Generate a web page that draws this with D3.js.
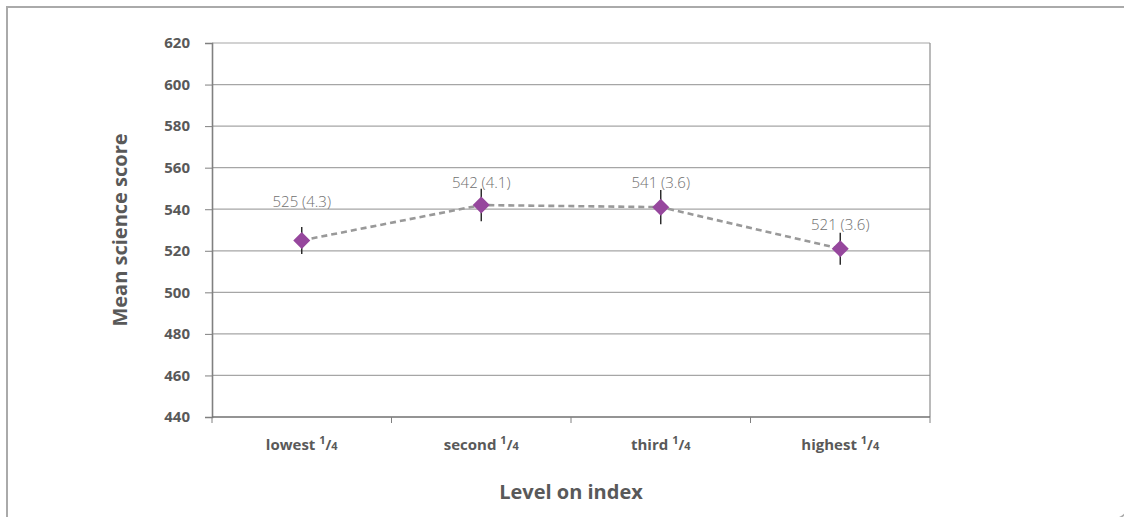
<!DOCTYPE html>
<html><head><meta charset="utf-8">
<script src="https://cdn.jsdelivr.net/npm/d3@7"></script>
<style>
html,body{margin:0;padding:0;background:#fff;}
svg{display:block;}
</style></head>
<body>
<svg id="c" width="1124" height="517"></svg>
<script>
// ---- data ----
const categories = ["lowest", "second", "third", "highest"];
const meanScores = [525, 542, 541, 521];
const standardErrors = [4.3, 4.1, 3.6, 3.6];
const errorHalfRange = [6.5, 7.8, 8.2, 7.7];
const yTicks = [440, 460, 480, 500, 520, 540, 560, 580, 600, 620];
const yTitle = "Mean science score";
const xTitle = "Level on index";

// ---- layout ----
const svg = d3.select("#c");
const L = 212, R = 930, T = 43, B = 417;
const font = "'Open Sans', 'Noto Sans', sans-serif";
const x = d3.scaleBand().domain(categories).range([L, R]).padding(0);
const y = d3.scaleLinear().domain([440, 620]).range([B, T]);

// outer frame
svg.append("path")
  .attr("d", "M7,530 V7 H1130")
  .attr("fill", "none").attr("stroke", "#aaa").attr("stroke-width", 2);
svg.append("path")
  .attr("d", "M1126,509 A9,9 0 0 1 1117,518")
  .attr("fill", "none").attr("stroke", "#aaa").attr("stroke-width", 1.5);

// gridlines
svg.append("g").selectAll("line").data(yTicks.filter(d => d !== 440)).join("line")
  .attr("x1", L).attr("x2", R)
  .attr("y1", d => y(d)).attr("y2", d => y(d))
  .attr("stroke", "#a6a6a6").attr("stroke-width", 1.2);

// right border of plot
svg.append("line").attr("x1", R).attr("x2", R).attr("y1", T).attr("y2", B)
  .attr("stroke", "#8c8c8c").attr("stroke-width", 1.2);

// y axis
const yAxis = d3.axisLeft(y).tickValues(yTicks).tickSize(7).tickPadding(15).tickFormat(d3.format("d"));
const gy = svg.append("g").attr("transform", `translate(${L},0)`).call(yAxis);
gy.select(".domain").attr("stroke", "#808080").attr("stroke-width", 1.6);
gy.selectAll(".tick line").attr("stroke", "#808080").attr("stroke-width", 1);
gy.selectAll(".tick text").attr("font-family", font).attr("font-size", 15)
  .attr("font-weight", "bold").attr("fill", "#595959");

// x axis (ticks at band boundaries)
const gx = svg.append("g").attr("transform", `translate(0,${B})`);
gx.append("line").attr("x1", L).attr("x2", R).attr("y1", 0).attr("y2", 0)
  .attr("stroke", "#707070").attr("stroke-width", 1.6);
const bounds = categories.map(c => x(c)).concat([x(categories[categories.length - 1]) + x.bandwidth()]);
gx.selectAll("line.tk").data(bounds).join("line").attr("class", "tk")
  .attr("x1", d => d).attr("x2", d => d).attr("y1", 0).attr("y2", 6)
  .attr("stroke", "#808080").attr("stroke-width", 1);
const lbl = gx.selectAll("text.cat").data(categories).join("text").attr("class", "cat")
  .attr("x", d => x(d) + x.bandwidth() / 2).attr("y", 33)
  .attr("text-anchor", "middle").attr("font-family", font).attr("font-size", 15)
  .attr("font-weight", "bold").attr("fill", "#595959");
lbl.append("tspan").text(d => d + " ");
lbl.append("tspan").text("1").attr("font-size", 11).attr("dy", -6);
lbl.append("tspan").text("/").attr("font-size", 14).attr("dy", 6);
lbl.append("tspan").text("4").attr("font-size", 11);

// axis titles
svg.append("text").attr("transform", `translate(127,${(T + B) / 2}) rotate(-90)`)
  .attr("text-anchor", "middle")
  .attr("font-family", font).attr("font-size", 20).attr("font-weight", "bold")
  .attr("fill", "#595959").text(yTitle);
svg.append("text").attr("x", (L + R) / 2).attr("y", 499)
  .attr("text-anchor", "middle").attr("font-family", font).attr("font-size", 20)
  .attr("font-weight", "bold").attr("fill", "#595959").text(xTitle);

// data
const pts = categories.map((c, i) => ({c, v: meanScores[i], se: standardErrors[i], e: errorHalfRange[i]}));
const cx = d => x(d.c) + x.bandwidth() / 2;

// dashed line
svg.append("path").datum(pts)
  .attr("d", d3.line().x(cx).y(d => y(d.v)))
  .attr("fill", "none").attr("stroke", "#999").attr("stroke-width", 2.6)
  .attr("stroke-dasharray", "6,4");

// error bars
svg.append("g").selectAll("line").data(pts).join("line")
  .attr("x1", cx).attr("x2", cx)
  .attr("y1", d => y(d.v + d.e)).attr("y2", d => y(d.v - d.e))
  .attr("stroke", "#222").attr("stroke-width", 1.4);

// diamonds
svg.append("g").selectAll("path").data(pts).join("path")
  .attr("transform", d => `translate(${cx(d)},${y(d.v)})`)
  .attr("d", "M0,-8.5 L8.5,0 L0,8.5 L-8.5,0 Z")
  .attr("fill", "#96479d");

// value labels
const labelDy = [-33, -17, -19, -19];
svg.append("g").selectAll("text").data(pts).join("text")
  .attr("x", cx).attr("y", (d, i) => y(d.v) + labelDy[i])
  .attr("text-anchor", "middle").attr("font-family", font).attr("font-size", 15)
  .attr("font-weight", 300)
  .attr("fill", "#707070").text(d => `${d.v} (${d.se})`);
</script>
</body></html>
